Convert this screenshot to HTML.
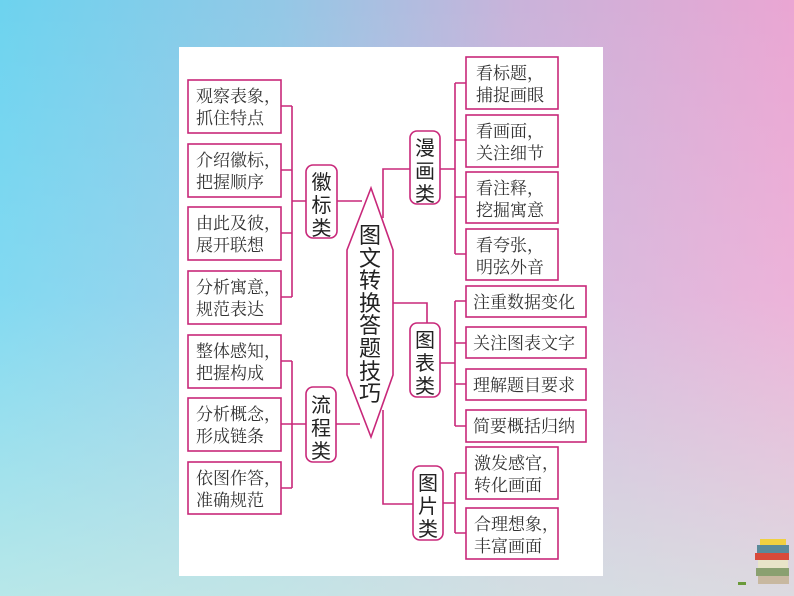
<!DOCTYPE html>
<html><head><meta charset="utf-8"><style>
html,body{margin:0;padding:0;width:794px;height:596px;overflow:hidden}
body{background:linear-gradient(90deg,#6dd3ef 0%,#93c8e6 35%,#c9b3da 65%,#eaa6d3 100%);position:relative}
.ov{position:absolute;left:0;top:0;width:794px;height:596px;background:linear-gradient(180deg,rgba(255,255,255,0) 0%,rgba(255,255,255,0.15) 50%,rgba(215,240,230,0.7) 100%)}
svg{position:absolute;left:0;top:0}
text{font-family:"Liberation Serif","Noto Serif CJK SC","Noto Sans CJK SC",serif;fill:#333;font-size:17px}
.b{font-family:"Liberation Sans","Noto Sans CJK SC",sans-serif;fill:#222;font-size:20px}
.m{font-size:22px}
</style></head><body><div class="ov"></div>
<svg width="794" height="596" viewBox="0 0 794 596">
<rect x="179" y="47" width="424" height="529" fill="#fff"/>
<g fill="none" stroke="#c8287a" stroke-width="1.6">
<rect x="188" y="80" width="93" height="53"/>
<rect x="188" y="144" width="93" height="53"/>
<rect x="188" y="207" width="93" height="53"/>
<rect x="188" y="271" width="93" height="53"/>
<rect x="188" y="335" width="93" height="53"/>
<rect x="188" y="398" width="93" height="53"/>
<rect x="188" y="462" width="93" height="52"/>
<path d="M281 106H292M281 170H292M281 233H292M281 297H292M292 106V297M292 201H306M337 201H362"/>
<path d="M281 361H292M281 424H292M281 488H292M292 361V488M292 424H306M336 424H360"/>
<rect x="306" y="165" width="31" height="73" rx="7"/>
<rect x="306" y="387" width="30" height="75" rx="7"/>
<polygon points="371,188 393,250 393,375 371,437 347,375 347,250"/>
<path d="M383 218V169H410M393 303H427V323M383 410V504H413"/>
<rect x="410" y="131" width="30" height="73" rx="7"/>
<rect x="410" y="323" width="30" height="74" rx="7"/>
<rect x="413" y="466" width="30" height="74" rx="7"/>
<path d="M440 169H455M455 83V254M455 83H466M455 140H466M455 197H466M455 254H466"/>
<rect x="466" y="57" width="92" height="52"/>
<rect x="466" y="115" width="92" height="52"/>
<rect x="466" y="172" width="92" height="51"/>
<rect x="466" y="229" width="92" height="51"/>
<path d="M440 363H455M455 301V426M455 301H466M455 343H466M455 384H466M455 426H466"/>
<rect x="466" y="286" width="120" height="31"/>
<rect x="466" y="327" width="120" height="31"/>
<rect x="466" y="369" width="120" height="31"/>
<rect x="466" y="410" width="120" height="32"/>
<path d="M443 503H455M455 473V533M455 473H466M455 533H466"/>
<rect x="466" y="447" width="92" height="52"/>
<rect x="466" y="508" width="92" height="51"/>
</g>
<g>
<text x="196" y="102">观察表象，</text><text x="196" y="124">抓住特点</text>
<text x="196" y="166">介绍徽标，</text><text x="196" y="188">把握顺序</text>
<text x="196" y="229">由此及彼，</text><text x="196" y="251">展开联想</text>
<text x="196" y="293">分析寓意，</text><text x="196" y="315">规范表达</text>
<text x="196" y="357">整体感知，</text><text x="196" y="379">把握构成</text>
<text x="196" y="420">分析概念，</text><text x="196" y="442">形成链条</text>
<text x="196" y="484">依图作答，</text><text x="196" y="506">准确规范</text>
<text x="476" y="79">看标题，</text><text x="476" y="101">捕捉画眼</text>
<text x="476" y="137">看画面，</text><text x="476" y="159">关注细节</text>
<text x="476" y="194">看注释，</text><text x="476" y="216">挖掘寓意</text>
<text x="476" y="251">看夸张，</text><text x="476" y="273">明弦外音</text>
<text x="473" y="308">注重数据变化</text>
<text x="473" y="349">关注图表文字</text>
<text x="473" y="391">理解题目要求</text>
<text x="473" y="432">简要概括归纳</text>
<text x="474" y="469">激发感官，</text><text x="474" y="491">转化画面</text>
<text x="474" y="530">合理想象，</text><text x="474" y="552">丰富画面</text>
</g>
<g text-anchor="middle">
<text class="b" x="321.5" y="189">徽</text><text class="b" x="321.5" y="212">标</text><text class="b" x="321.5" y="235">类</text>
<text class="b" x="321" y="412">流</text><text class="b" x="321" y="435">程</text><text class="b" x="321" y="458">类</text>
<text class="b" x="425" y="155">漫</text><text class="b" x="425" y="178">画</text><text class="b" x="425" y="201">类</text>
<text class="b" x="425" y="347">图</text><text class="b" x="425" y="370">表</text><text class="b" x="425" y="393">类</text>
<text class="b" x="428" y="490">图</text><text class="b" x="428" y="513">片</text><text class="b" x="428" y="536">类</text>
<text class="b m" x="370" y="243">图</text>
<text class="b m" x="370" y="266">文</text>
<text class="b m" x="370" y="288">转</text>
<text class="b m" x="370" y="311">换</text>
<text class="b m" x="370" y="333">答</text>
<text class="b m" x="370" y="356">题</text>
<text class="b m" x="370" y="379">技</text>
<text class="b m" x="370" y="401">巧</text>
</g>
<g>
<rect x="757" y="545" width="32" height="8" fill="#5a8a9a"/>
<rect x="755" y="553" width="34" height="7" fill="#d84a3a"/>
<rect x="758" y="560" width="30" height="8" fill="#e8e4c8"/>
<rect x="756" y="568" width="33" height="8" fill="#8aa070"/>
<rect x="758" y="576" width="31" height="8" fill="#c8b8a0"/>
<rect x="760" y="539" width="26" height="6" fill="#f0d040"/>
<rect x="738" y="582" width="8" height="3" fill="#6a9a3a"/>
</g>
</svg>
</body></html>
